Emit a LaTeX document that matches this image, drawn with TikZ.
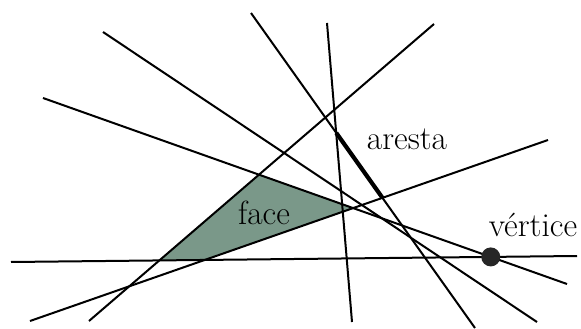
\documentclass[tikz,border=0pt]{standalone}
\usetikzlibrary{calc}
\definecolor{facecol}{RGB}{122,152,137}
\begin{document}
\begin{tikzpicture}[x=1pt,y=-1pt,
  ln/.style={line width=2pt,black},
  edgeln/.style={line width=4.2pt,black},
  lbl/.style={font=\fontsize{33.5}{40}\selectfont,anchor=base,inner sep=0pt}]
\useasboundingbox (0,0) rectangle (581,329);
% line end points
\coordinate (a1) at (11,262);  \coordinate (b1) at (577,256);
\coordinate (a2) at (103,32);  \coordinate (b2) at (537,322);
\coordinate (a3) at (43,98);   \coordinate (b3) at (567,284);
\coordinate (a4) at (251,13);  \coordinate (b4) at (475,328);
\coordinate (a5) at (548,140); \coordinate (b5) at (30,321);
\coordinate (a6) at (434,24);  \coordinate (b6) at (89,321);
\coordinate (a7) at (327,23);  \coordinate (b7) at (352,322);
% intersections
\coordinate (f1) at (intersection of a6--b6 and a3--b3);
\coordinate (f2) at (intersection of a3--b3 and a5--b5);
\coordinate (f3) at (intersection of a5--b5 and a1--b1);
\coordinate (f4) at (intersection of a1--b1 and a6--b6);
\coordinate (e1) at (intersection of a4--b4 and a7--b7);
\coordinate (e2) at (intersection of a4--b4 and a5--b5);
\coordinate (v) at (intersection of a1--b1 and a3--b3);
% face
\fill[facecol] (f1) -- (f2) -- (f3) -- (f4) -- cycle;
% lines
\draw[ln] (a1) -- (b1);
\draw[ln] (a2) -- (b2);
\draw[ln] (a3) -- (b3);
\draw[ln] (a4) -- (b4);
\draw[ln] (a5) -- (b5);
\draw[ln] (a6) -- (b6);
\draw[ln] (a7) -- (b7);
% edge
\draw[edgeln] (e1) -- (e2);
% vertex
\fill[black!85] (v) circle (9.5);
% labels
\node[lbl] (tface) at (264,224) {face};
\node[lbl] (tedge) at (407,149) {aresta};
\node[lbl] (tvert) at (533,236) {vértice};
\end{tikzpicture}
\end{document}
